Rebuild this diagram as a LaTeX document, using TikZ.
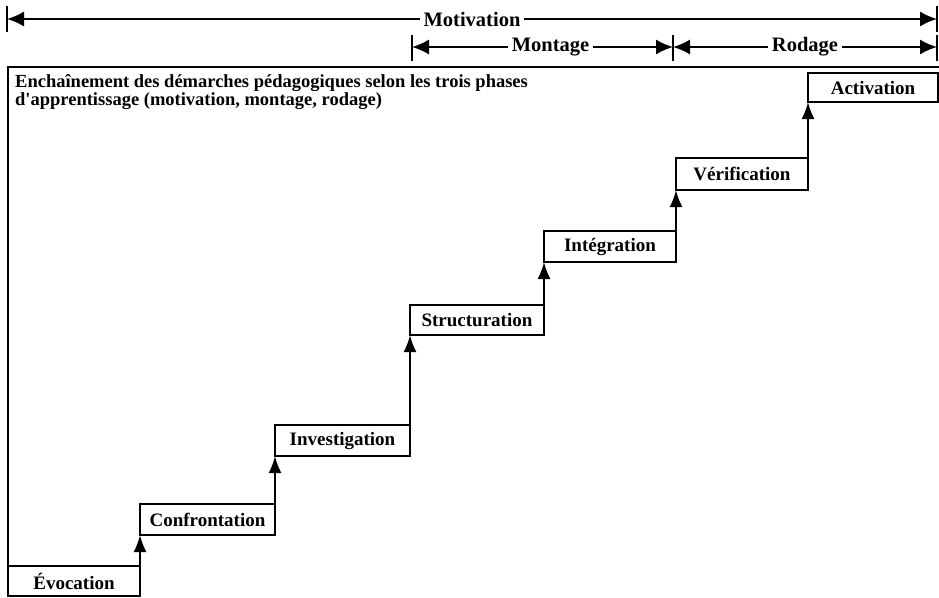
\documentclass[tikz,border=0pt]{standalone}
\usepackage{fontspec}
\setmainfont{Liberation Serif}
\usetikzlibrary{arrows.meta}
\begin{document}
\begin{tikzpicture}[x=1pt,y=-1pt,
  stepbox/.style={draw,line width=1.8pt,anchor=north west,inner sep=0pt,outer sep=0pt,
     font=\bfseries\fontsize{19}{21}\selectfont},
  conn/.style={line width=2pt,-{Latex[length=17pt,width=13pt]}},
  phase/.style={line width=1.6pt,{Latex[length=17pt,width=15pt]}-{Latex[length=17pt,width=15pt]}},
  bar/.style={line width=1.6pt},
  lab/.style={fill=white,inner sep=4pt,font=\bfseries\fontsize{20.5}{22}\selectfont}]
\useasboundingbox (0,0) rectangle (939,597);
% outer frame
\draw[line width=1.8pt] (8,597) -- (8,67) coordinate (ftl) -- (939,67) coordinate (ftr);
% title
\node[anchor=north west,align=left,inner sep=0pt,font=\bfseries\fontsize{18.5}{18}\selectfont] (title) at (15,74)
  {Enchaînement des démarches pédagogiques selon les trois phases\\d\textquotesingle apprentissage (motivation, montage, rodage)};
% boxes
\node[stepbox,minimum width=132pt,minimum height=30pt] (evo) at (8,566) {Évocation};
\node[stepbox,minimum width=135pt,minimum height=31pt] (conf) at (140,504) {Confrontation};
\node[stepbox,minimum width=135pt,minimum height=31pt] (inv) at (275,425) {Investigation};
\node[stepbox,minimum width=134pt,minimum height=30pt] (str) at (410,305) {Structuration};
\node[stepbox,minimum width=132pt,minimum height=31pt] (int) at (544,231) {Intégration};
\node[stepbox,minimum width=132pt,minimum height=32pt] (ver) at (676,158) {Vérification};
\node[stepbox,minimum width=130pt,minimum height=29pt] (act) at (808,73) {Activation};
% connectors
\draw[conn] (evo.north east) -- (conf.south west);
\draw[conn] (conf.north east) -- (inv.south west);
\draw[conn] (inv.north east) -- (str.south west);
\draw[conn] (str.north east) -- (int.south west);
\draw[conn] (int.north east) -- (ver.south west);
\draw[conn] (ver.north east) -- (act.south west);
% phase arrows
\coordinate (m1) at (7,19);
\coordinate (m2) at (937,19);
\draw[bar] (7,6) -- (7,32);
\draw[bar] (937,6) -- (937,32);
\draw[phase] (m1) -- node[lab] (mot) {Motivation} (m2);
\coordinate (g1) at (412,47);
\coordinate (g2) at (673,47);
\coordinate (r2) at (937,47);
\draw[bar] (412,35) -- (412,61);
\draw[bar] (673,35) -- (673,61);
\draw[bar] (937,35) -- (937,61);
\draw[phase] (g1) -- node[lab,xshift=8pt] (mon) {Montage} (g2);
\draw[phase] (g2) -- node[lab] (rod) {Rodage} (r2);
\end{tikzpicture}
\end{document}
